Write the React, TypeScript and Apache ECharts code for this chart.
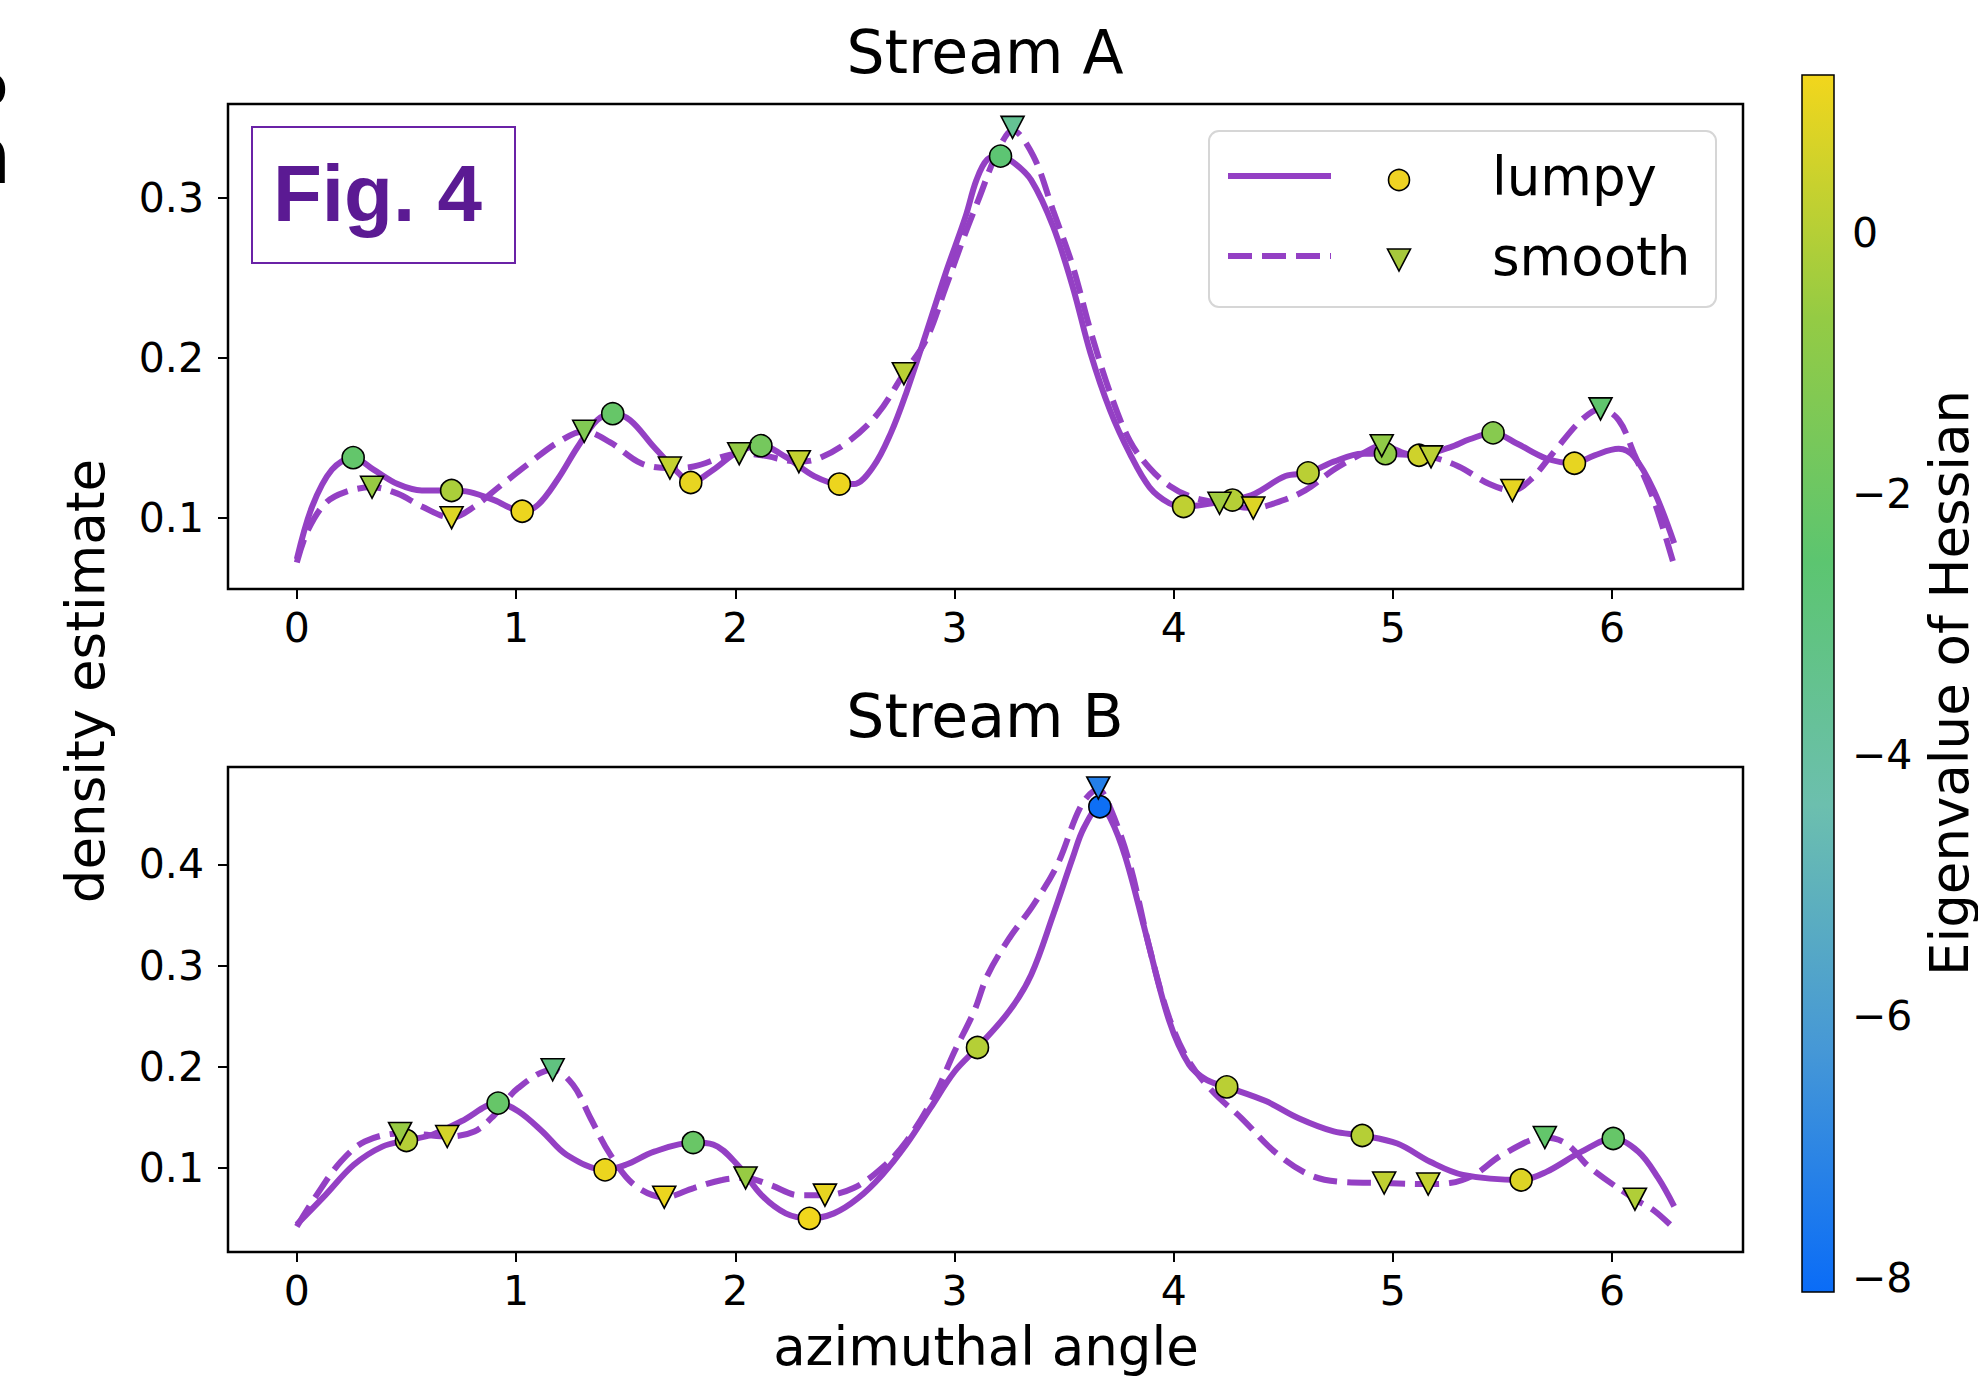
import React, { useEffect, useRef } from "react";
import * as echarts from "echarts";

// ---------- data ----------
const xTicks = [0, 1, 2, 3, 4, 5, 6];
const yTicksA = [0.1, 0.2, 0.3];
const yTicksB = [0.1, 0.2, 0.3, 0.4];
const cbarTicks = [-8, -6, -4, -2, 0];
const titles = ["Stream A", "Stream B"];
const legendNames = ["lumpy", "smooth"];

const lumpyA: number[][] = [
  [0.0, 0.074], [0.07, 0.107], [0.16, 0.13], [0.257, 0.1375], [0.35, 0.13], [0.46, 0.121],
  [0.57, 0.117], [0.706, 0.117], [0.79, 0.116], [0.9, 0.111], [1.028, 0.104], [1.1, 0.108],
  [1.19, 0.124], [1.28, 0.144], [1.37, 0.161], [1.441, 0.165], [1.52, 0.161], [1.63, 0.144],
  [1.74, 0.128], [1.797, 0.122], [1.9, 0.13], [2.01, 0.141], [2.117, 0.145], [2.23, 0.138],
  [2.36, 0.126], [2.475, 0.121], [2.54, 0.121], [2.63, 0.132], [2.71, 0.153], [2.78, 0.178],
  [2.87, 0.215], [2.96, 0.253], [3.05, 0.288], [3.1, 0.311], [3.15, 0.324], [3.21, 0.326],
  [3.27, 0.322], [3.35, 0.311], [3.45, 0.282], [3.54, 0.244], [3.62, 0.203], [3.71, 0.167],
  [3.8, 0.14], [3.89, 0.119], [3.98, 0.109], [4.045, 0.107], [4.175, 0.109], [4.268, 0.111],
  [4.37, 0.115], [4.51, 0.126], [4.613, 0.128], [4.73, 0.135], [4.86, 0.14], [4.966, 0.14],
  [5.119, 0.139], [5.26, 0.144], [5.35, 0.149], [5.457, 0.153], [5.57, 0.146], [5.7, 0.137],
  [5.828, 0.134], [5.92, 0.139], [6.03, 0.143], [6.1, 0.138], [6.19, 0.117], [6.283, 0.084],
];

const smoothA: number[][] = [
  [0.0, 0.072], [0.05, 0.092], [0.13, 0.109], [0.22, 0.116], [0.343, 0.119], [0.46, 0.115],
  [0.57, 0.107], [0.706, 0.1], [0.81, 0.107], [0.92, 0.119], [1.06, 0.134], [1.19, 0.147],
  [1.311, 0.154], [1.43, 0.147], [1.57, 0.134], [1.702, 0.131], [1.81, 0.132], [2.018, 0.14],
  [2.12, 0.139], [2.29, 0.135], [2.38, 0.137], [2.52, 0.148], [2.65, 0.165], [2.769, 0.19],
  [2.87, 0.211], [2.96, 0.244], [3.05, 0.278], [3.11, 0.299], [3.2, 0.33], [3.265, 0.342],
  [3.36, 0.326], [3.45, 0.292], [3.54, 0.257], [3.62, 0.217], [3.71, 0.178], [3.8, 0.148],
  [3.89, 0.131], [3.98, 0.12], [4.08, 0.113], [4.209, 0.109], [4.363, 0.106], [4.46, 0.109],
  [4.6, 0.117], [4.73, 0.13], [4.86, 0.14], [4.949, 0.145], [5.06, 0.14], [5.174, 0.138],
  [5.3, 0.132], [5.44, 0.121], [5.545, 0.117], [5.63, 0.124], [5.74, 0.142], [5.86, 0.161],
  [5.947, 0.168], [6.03, 0.161], [6.1, 0.14], [6.19, 0.111], [6.283, 0.07],
];

const lumpyB: number[][] = [
  [0.0, 0.044], [0.13, 0.073], [0.26, 0.103], [0.39, 0.121], [0.5, 0.127], [0.62, 0.133],
  [0.75, 0.146], [0.918, 0.164], [1.01, 0.156], [1.12, 0.136], [1.23, 0.113], [1.406, 0.098],
  [1.5, 0.103], [1.63, 0.116], [1.808, 0.125], [1.9, 0.123], [2.01, 0.103], [2.12, 0.073],
  [2.23, 0.055], [2.338, 0.05], [2.45, 0.055], [2.56, 0.07], [2.67, 0.093], [2.78, 0.123],
  [2.89, 0.159], [3.0, 0.195], [3.105, 0.219], [3.25, 0.255], [3.35, 0.291], [3.45, 0.35],
  [3.54, 0.407], [3.59, 0.436], [3.663, 0.457], [3.71, 0.446], [3.78, 0.407], [3.87, 0.334],
  [3.98, 0.245], [4.07, 0.202], [4.15, 0.187], [4.242, 0.18], [4.42, 0.166], [4.57, 0.149],
  [4.73, 0.136], [4.86, 0.132], [5.02, 0.124], [5.17, 0.106], [5.32, 0.093], [5.585, 0.088],
  [5.7, 0.096], [5.86, 0.116], [6.005, 0.129], [6.12, 0.116], [6.21, 0.09], [6.283, 0.062],
];

const smoothB: number[][] = [
  [0.0, 0.042], [0.09, 0.073], [0.2, 0.106], [0.31, 0.126], [0.471, 0.134], [0.57, 0.133],
  [0.686, 0.131], [0.81, 0.136], [0.9, 0.152], [1.01, 0.179], [1.167, 0.197], [1.26, 0.182],
  [1.34, 0.149], [1.43, 0.113], [1.54, 0.083], [1.676, 0.071], [1.81, 0.08], [1.94, 0.088],
  [2.047, 0.09], [2.16, 0.083], [2.29, 0.073], [2.409, 0.073], [2.54, 0.08], [2.67, 0.1],
  [2.78, 0.126], [2.91, 0.172], [3.0, 0.215], [3.09, 0.255], [3.15, 0.29], [3.25, 0.327],
  [3.36, 0.36], [3.47, 0.4], [3.58, 0.459], [3.656, 0.474], [3.71, 0.456], [3.8, 0.4],
  [3.89, 0.317], [3.98, 0.248], [4.07, 0.205], [4.18, 0.175], [4.31, 0.149], [4.46, 0.116],
  [4.62, 0.093], [4.77, 0.086], [4.96, 0.085], [5.161, 0.084], [5.26, 0.085], [5.37, 0.093],
  [5.5, 0.113], [5.693, 0.13], [5.79, 0.124], [5.9, 0.1], [6.104, 0.069], [6.19, 0.058],
  [6.283, 0.04],
];

// critical points: [angle, density, eigenvalue of Hessian]
const lumpyPtsA: number[][] = [
  [0.257, 0.1375, -2.3], [0.706, 0.117, -0.2], [1.028, 0.104, 1.1], [1.441, 0.165, -2.2],
  [1.797, 0.122, 1.0], [2.117, 0.145, -1.7], [2.475, 0.121, 1.1], [3.21, 0.326, -2.6],
  [4.045, 0.107, 0.2], [4.268, 0.111, 0.0], [4.613, 0.128, 0.1], [4.966, 0.14, -0.8],
  [5.119, 0.139, 0.5], [5.457, 0.153, -1.1], [5.828, 0.134, 1.0],
];
const smoothPtsA: number[][] = [
  [0.343, 0.119, -0.6], [0.706, 0.1, 0.8], [1.311, 0.154, -1.3], [1.702, 0.131, 0.3],
  [2.018, 0.14, -0.7], [2.29, 0.135, 0.3], [2.769, 0.19, 0.1], [3.265, 0.344, -3.6],
  [4.209, 0.109, -0.4], [4.363, 0.106, 0.8], [4.949, 0.145, -0.8], [5.174, 0.138, 0.1],
  [5.545, 0.117, 1.0], [5.947, 0.168, -2.4],
];
const lumpyPtsB: number[][] = [
  [0.5, 0.127, 0.0], [0.918, 0.164, -2.2], [1.406, 0.098, 1.1], [1.808, 0.125, -2.1],
  [2.338, 0.05, 1.2], [3.105, 0.219, 0.0], [3.663, 0.457, -8.0], [4.242, 0.18, 0.1],
  [4.86, 0.132, 0.0], [5.585, 0.088, 0.8], [6.005, 0.129, -2.2],
];
const smoothPtsB: number[][] = [
  [0.471, 0.134, -0.6], [0.686, 0.131, 0.6], [1.167, 0.197, -3.0], [1.676, 0.071, 1.1],
  [2.047, 0.09, -0.6], [2.409, 0.073, 1.0], [3.656, 0.4756, -7.3], [4.96, 0.085, 0.2],
  [5.161, 0.084, 0.3], [5.693, 0.13, -2.3], [6.104, 0.069, -0.1],
];

// ---------- style ----------
const FONT = "DejaVu Sans";
const LINE = "#9440c4";
const CMAP = ["#0a6cf7", "#4698d6", "#6cbfae", "#5cc570", "#94cb44", "#f2d61c"];
const EIG_MIN = -8.11;
const EIG_MAX = 1.21;
const X_MIN = -0.314;
const X_MAX = 6.597;

const GRID_A = { left: 228, top: 104, width: 1515, height: 485 };
const GRID_B = { left: 228, top: 767, width: 1515, height: 485 };
const CBAR = { left: 1802, top: 75, width: 32, height: 1217 };

const minus = (v: number) => (v < 0 ? "\u2212" + Math.abs(v) : String(v));

function xAxis(gridIndex: number) {
  return {
    type: "value",
    gridIndex,
    min: X_MIN,
    max: X_MAX,
    axisLine: { show: false, onZero: false },
    splitLine: { show: false },
    axisTick: { show: true, length: 10, customValues: xTicks, lineStyle: { color: "#000", width: 2 } },
    axisLabel: {
      customValues: xTicks,
      fontSize: 41,
      fontFamily: FONT,
      color: "#000",
      margin: 18,
      formatter: (v: number) => String(v),
    },
  };
}

function yAxis(gridIndex: number, min: number, max: number, ticks: number[]) {
  return {
    type: "value",
    gridIndex,
    min,
    max,
    axisLine: { show: false, onZero: false },
    splitLine: { show: false },
    axisTick: { show: true, length: 10, customValues: ticks, lineStyle: { color: "#000", width: 2 } },
    axisLabel: {
      customValues: ticks,
      fontSize: 41,
      fontFamily: FONT,
      color: "#000",
      margin: 24,
      formatter: (v: number) => v.toFixed(1),
    },
  };
}

function lineSeries(data: number[][], axis: number, dashed: boolean) {
  return {
    type: "line",
    xAxisIndex: axis,
    yAxisIndex: axis,
    data,
    showSymbol: false,
    smooth: 0.35,
    lineStyle: { color: LINE, width: 6, type: dashed ? [24, 10] : "solid", cap: "butt" },
    z: 2,
    silent: true,
  };
}

function pointSeries(data: number[][], axis: number, tri: boolean) {
  return {
    type: "scatter",
    xAxisIndex: axis,
    yAxisIndex: axis,
    data,
    symbol: tri ? "triangle" : "circle",
    symbolRotate: tri ? 180 : 0,
    symbolSize: tri ? [23, 22] : 22,
    itemStyle: { borderColor: "#000", borderWidth: 1.6, opacity: 1 },
    z: 5,
    silent: true,
  };
}

function txt(text: string, x: number, y: number, size: number, extra: any = {}) {
  return {
    type: "text",
    x,
    y,
    rotation: extra.rotation || 0,
    z: 20,
    silent: true,
    style: {
      text,
      fontSize: size,
      fontFamily: extra.family || FONT,
      fontWeight: extra.weight || "normal",
      fill: extra.fill || "#000",
      textAlign: extra.align || "center",
      align: extra.align || "center",
      textVerticalAlign: "middle",
      verticalAlign: "middle",
      lineHeight: extra.lineHeight,
    },
  };
}

export default function App() {
  const ref = useRef<HTMLDivElement>(null);

  useEffect(() => {
    if (!ref.current) return;
    const chart = echarts.init(ref.current, null, { renderer: "svg" });

    const gradStops = CMAP.slice()
      .reverse()
      .map((c, i) => ({ offset: i / (CMAP.length - 1), color: c }));

    const option: any = {
      animation: false,
      backgroundColor: "#fff",
      grid: [
        { ...GRID_A, show: true, borderColor: "#000", borderWidth: 2.5, backgroundColor: "transparent" },
        { ...GRID_B, show: true, borderColor: "#000", borderWidth: 2.5, backgroundColor: "transparent" },
        { ...CBAR, show: false },
      ],
      xAxis: [
        xAxis(0),
        xAxis(1),
        { type: "value", gridIndex: 2, min: 0, max: 1, show: false },
      ],
      yAxis: [
        yAxis(0, 0.0554, 0.3586, yTicksA),
        yAxis(1, 0.0168, 0.4963, yTicksB),
        {
          type: "value",
          gridIndex: 2,
          position: "right",
          min: EIG_MIN,
          max: EIG_MAX,
          axisLine: { show: false },
          splitLine: { show: false },
          axisTick: { show: true, length: 10, customValues: cbarTicks, lineStyle: { color: "#000", width: 2 } },
          axisLabel: {
            customValues: cbarTicks,
            fontSize: 41,
            fontFamily: FONT,
            color: "#000",
            margin: 18,
            formatter: (v: number) => minus(v),
          },
        },
      ],
      visualMap: {
        type: "continuous",
        show: false,
        min: EIG_MIN,
        max: EIG_MAX,
        dimension: 2,
        seriesIndex: [2, 3, 6, 7],
        inRange: { color: CMAP },
      },
      series: [
        lineSeries(lumpyA, 0, false),
        lineSeries(smoothA, 0, true),
        pointSeries(lumpyPtsA, 0, false),
        pointSeries(smoothPtsA, 0, true),
        lineSeries(lumpyB, 1, false),
        lineSeries(smoothB, 1, true),
        pointSeries(lumpyPtsB, 1, false),
        pointSeries(smoothPtsB, 1, true),
      ],
      graphic: [
        // clipped letters at the left edge
        txt("o", -26, 84, 56, { align: "left", lineHeight: 56 }),
        txt("n", -38, 156, 78, { align: "left", lineHeight: 70 }),
        // titles
        txt(titles[0], 985, 52, 60),
        txt(titles[1], 985, 716, 60),
        // axis names
        txt("density estimate", 85, 681, 53, { rotation: Math.PI / 2 }),
        txt("azimuthal angle", 986, 1346, 53, { lineHeight: 56 }),
        txt("Eigenvalue of Hessian", 1949, 683, 53, { rotation: Math.PI / 2 }),
        // colorbar
        {
          type: "rect",
          z: 1,
          silent: true,
          shape: { x: CBAR.left, y: CBAR.top, width: CBAR.width, height: CBAR.height },
          style: {
            fill: new echarts.graphic.LinearGradient(0, 0, 0, 1, gradStops),
            stroke: "#000",
            lineWidth: 1.5,
          },
        },
        // Fig. 4 box
        {
          type: "rect",
          z: 15,
          silent: true,
          shape: { x: 252, y: 127, width: 263, height: 136 },
          style: { fill: "#fff", stroke: "#6a22a6", lineWidth: 2 },
        },
        txt("Fig. 4", 273, 193, 80, { align: "left", family: "Liberation Sans", weight: "bold", fill: "#5b1a93" }),
        // legend
        {
          type: "rect",
          z: 15,
          silent: true,
          shape: { x: 1209, y: 131, width: 507, height: 176, r: 10 },
          style: { fill: "rgba(255,255,255,0.85)", stroke: "#d6d6d6", lineWidth: 2 },
        },
        {
          type: "line",
          z: 16,
          silent: true,
          shape: { x1: 1228, y1: 176, x2: 1331, y2: 176 },
          style: { stroke: LINE, lineWidth: 6 },
        },
        {
          type: "line",
          z: 16,
          silent: true,
          shape: { x1: 1228, y1: 256, x2: 1331, y2: 256 },
          style: { stroke: LINE, lineWidth: 6, lineDash: [24, 10] },
        },
        {
          type: "circle",
          z: 16,
          silent: true,
          shape: { cx: 1399, cy: 180, r: 10.5 },
          style: { fill: "#efd323", stroke: "#000", lineWidth: 1.6 },
        },
        {
          type: "polygon",
          z: 16,
          silent: true,
          shape: { points: [[1387.5, 249], [1410.5, 249], [1399, 271]] },
          style: { fill: "#a6c83c", stroke: "#000", lineWidth: 1.6 },
        },
        txt(legendNames[0], 1492, 176, 53, { align: "left" }),
        txt(legendNames[1], 1492, 256, 53, { align: "left" }),
      ],
    };

    chart.setOption(option);
    return () => chart.dispose();
  }, []);

  return (
    <div
      ref={ref}
      style={{ position: "fixed", left: 0, top: 0, width: 1978, height: 1379, background: "#fff" }}
    />
  );
}
